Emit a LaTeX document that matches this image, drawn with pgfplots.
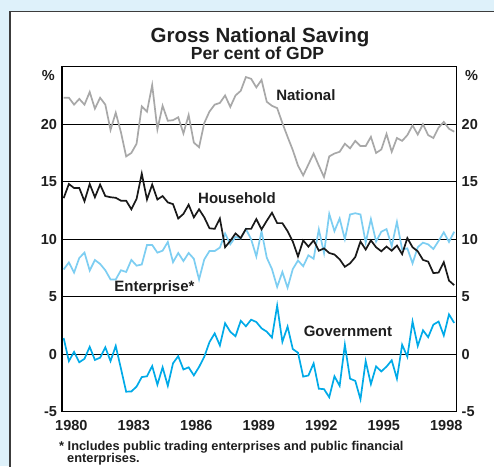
\documentclass[border=0pt]{standalone}
\usepackage{fontspec}
\setmainfont{Liberation Sans}
\usepackage{pgfplots}
\pgfplotsset{compat=1.18}
\usepackage{pgfplotstable}

\definecolor{bgblue}{RGB}{222,241,250}
\definecolor{panelgray}{RGB}{60,60,60}
\definecolor{natgray}{RGB}{168,168,168}
\definecolor{hhblack}{RGB}{25,25,25}
\definecolor{entblue}{RGB}{125,206,242}
\definecolor{govblue}{RGB}{0,170,232}
\definecolor{txt}{RGB}{30,30,30}

\pgfplotstableread{
x nat hh ent gov
1980.08 22.3 13.57 7.37 1.4
1980.33 22.3 14.8 7.98 -0.6
1980.58 21.7 14.45 7.1 0.2
1980.83 22.2 14.45 8.37 -0.7
1981.08 21.7 13.3 8.83 -0.4
1981.33 22.8 14.8 7.28 0.64
1981.58 21.35 13.65 8.19 -0.5
1981.83 22.3 14.75 7.85 -0.3
1982.08 21.7 13.75 7.3 0.6
1982.33 19.5 13.65 6.5 -0.6
1982.58 21.0 13.6 6.5 0.72
1982.83 19.3 13.35 7.3 -1.25
1983.08 17.2 13.35 7.15 -3.26
1983.33 17.5 12.6 8.2 -3.24
1983.58 18.3 13.5 7.7 -2.82
1983.83 21.55 15.7 7.8 -1.99
1984.08 21.1 13.45 9.5 -1.92
1984.33 23.4 14.75 9.5 -1.03
1984.58 19.55 13.45 8.83 -2.65
1984.83 21.6 13.75 9.0 -1.14
1985.08 20.3 13.2 9.76 -2.75
1985.33 20.35 13.05 8.0 -0.79
1985.58 20.6 11.8 8.8 -0.17
1985.83 19.2 12.2 8.1 -1.33
1986.08 20.8 13.0 8.8 -1.14
1986.33 18.4 11.9 8.3 -1.84
1986.58 18.0 12.6 6.5 -1.11
1986.83 20.1 11.9 8.24 -0.23
1987.08 21.1 10.95 8.97 1.05
1987.33 21.7 10.9 8.97 1.81
1987.58 21.85 11.8 9.27 0.76
1987.83 22.5 9.3 10.5 2.69
1988.08 21.5 9.85 9.56 1.95
1988.33 22.5 10.5 10.2 1.56
1988.58 22.9 10.1 10.06 2.9
1988.83 24.1 10.9 10.88 2.43
1989.08 23.95 10.9 10.0 3.0
1989.33 23.2 11.75 8.5 2.8
1989.58 23.85 10.85 10.7 2.25
1989.83 21.95 11.6 8.4 1.96
1990.08 21.6 12.3 7.4 1.45
1990.33 21.4 11.4 5.85 4.22
1990.58 20.1 11.4 7.15 1.08
1990.83 18.9 10.7 5.78 2.4
1991.08 17.75 9.8 7.4 0.45
1991.33 16.4 8.5 8.15 0.13
1991.58 15.55 9.9 7.65 -1.95
1991.83 16.5 9.35 8.6 -1.85
1992.08 17.45 9.9 8.3 -0.8
1992.33 16.4 9.0 10.85 -3.0
1992.58 15.4 9.2 8.8 -3.04
1992.83 17.2 8.8 12.2 -3.74
1993.08 17.45 8.67 10.7 -1.92
1993.33 17.6 8.25 11.8 -2.75
1993.58 18.3 7.6 10.0 0.82
1993.83 17.9 7.9 12.15 -2.13
1994.08 18.55 8.45 12.26 -2.32
1994.33 18.1 9.8 12.15 -3.92
1994.58 18.1 9.1 9.7 -0.6
1994.83 18.9 9.9 11.75 -2.6
1995.08 17.5 9.3 9.8 -1.06
1995.33 17.8 8.95 10.65 -1.5
1995.58 19.15 9.36 10.88 -1.08
1995.83 17.6 9.0 9.4 -0.53
1996.08 18.8 9.45 11.5 -2.13
1996.33 18.55 8.7 9.1 0.82
1996.58 19.05 10.1 9.2 -0.22
1996.83 19.9 9.3 7.9 2.84
1997.08 19.1 8.95 9.3 0.72
1997.33 20.0 8.2 9.7 2.08
1997.58 19.05 8.05 9.55 1.48
1997.83 18.8 7.05 9.15 2.57
1998.08 19.7 7.1 9.85 2.84
1998.33 20.2 8.0 10.6 1.63
1998.58 19.6 6.4 9.76 3.46
1998.83 19.35 6.0 10.65 2.72
}\data

\begin{document}
\begin{tikzpicture}[x=1pt,y=1pt]
\fill[bgblue] (0,0) rectangle (494,466);
\fill[white] (10,-20) rectangle (520,454.3);
\draw[panelgray, line width=1.5pt] (10,-20) -- (10,454.3) -- (520,454.3);

\begin{axis}[
  at={(62pt,54.3pt)}, anchor=south west,
  scale only axis, width=394.7pt, height=345pt,
  xmin=1980, xmax=1998.95, ymin=-5, ymax=25,
  axis line style={black, line width=1.3pt},
  ytick={-5,0,5,10,15,20},
  yticklabels={-5,0,5,10,15,20},
  ytick style={draw=none},
  ymajorgrids, grid style={black, line width=0.9pt},
  xtick={1980.45,1983.45,1986.45,1989.45,1992.45,1995.45,1998.45},
  xticklabels={1980,1983,1986,1989,1992,1995,1998},
  xtick style={draw=none},
  minor xtick={1981,1982,...,1998},
  minor x tick style={black, line width=1pt},
  minor tick length=10pt,
  tick align=inside, xtick pos=bottom, ytick pos=left,
  ticklabel style={font=\fontsize{14.5}{17}\selectfont\bfseries, text=txt},
  yticklabel style={xshift=-1.5pt},
  xticklabel style={yshift=-5pt},
  clip=false,
]
\addplot[natgray, line width=1.7pt] table[x=x, y=nat] {\data};
\addplot[entblue, line width=1.7pt] table[x=x, y=ent] {\data};
\addplot[hhblack, line width=1.7pt] table[x=x, y=hh] {\data};
\addplot[govblue, line width=1.7pt] table[x=x, y=gov] {\data};
\node[font=\fontsize{15}{18}\selectfont\bfseries, text=txt] at (axis cs:1991.71,22.5) {National};
\node[font=\fontsize{15}{18}\selectfont\bfseries, text=txt] at (axis cs:1988.4,13.6) {Household};
\node[font=\fontsize{15}{18}\selectfont\bfseries, text=txt] at (axis cs:1984.44,5.75) {Enterprise*};
\node[font=\fontsize{15}{18}\selectfont\bfseries, text=txt] at (axis cs:1993.73,2.0) {Government};
\end{axis}

\begin{axis}[
  at={(62pt,54.3pt)}, anchor=south west,
  scale only axis, width=394.7pt, height=345pt,
  xmin=1980, xmax=1998.95, ymin=-5, ymax=25,
  axis x line=none, axis y line*=right,
  y axis line style={draw=none},
  ytick={-5,0,5,10,15,20},
  yticklabels={-5,0,5,10,15,20},
  ytick style={draw=none},
  yticklabel pos=right,
  ticklabel style={font=\fontsize{14.5}{17}\selectfont\bfseries, text=txt},
  yticklabel style={xshift=1.5pt},
]
\addplot[draw=none] coordinates {(1985,0)};
\end{axis}

\node[anchor=east, inner sep=0, font=\fontsize{14.5}{17}\selectfont\bfseries, text=txt] at (55,390) {\%};
\node[anchor=west, inner sep=0, font=\fontsize{14.5}{17}\selectfont\bfseries, text=txt] at (465,390) {\%};

\node[anchor=base, inner sep=0, font=\fontsize{20.5}{24}\selectfont\bfseries, text=txt] at (260,423) {Gross National Saving};
\node[anchor=base, inner sep=0, font=\fontsize{17.5}{21}\selectfont\bfseries, text=txt] at (257.5,406) {Per cent of GDP};

\node[anchor=base west, inner sep=0, font=\fontsize{12.8}{15}\selectfont\bfseries, text=txt] at (59,16) {* Includes public trading enterprises and public financial};
\node[anchor=base west, inner sep=0, font=\fontsize{12.8}{15}\selectfont\bfseries, text=txt] at (67,3.3) {enterprises.};

\pgfresetboundingbox
\path[use as bounding box] (0,0) rectangle (494,466);
\end{tikzpicture}
\end{document}
